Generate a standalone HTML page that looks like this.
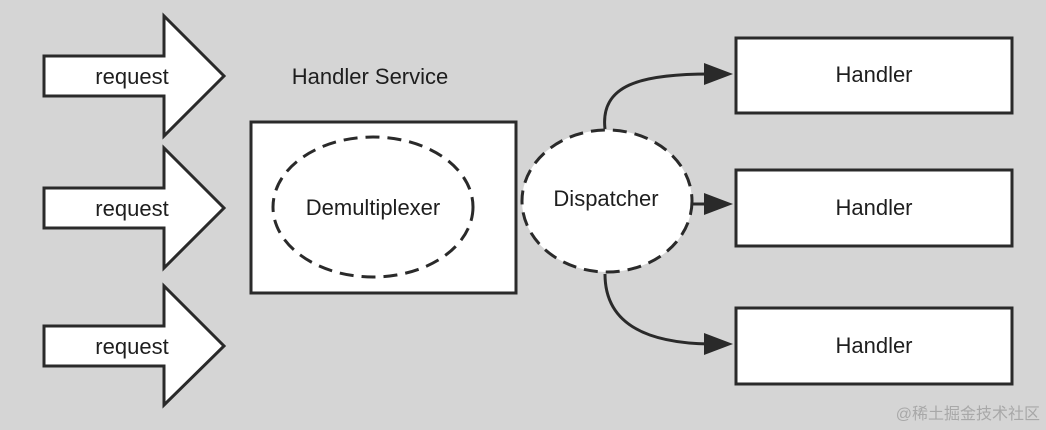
<!DOCTYPE html>
<html><head><meta charset="utf-8"><style>
html,body{margin:0;padding:0;background:#d5d5d5;}
svg{display:block}
text{font-family:"Liberation Sans","Noto Sans CJK SC",sans-serif;fill:#1e1e1e}
</style></head><body>
<svg width="1046" height="430" viewBox="0 0 1046 430">
<rect width="1046" height="430" fill="#d5d5d5"/>
<defs><marker id="ah" viewBox="0 0 10 10" refX="9" refY="5" markerWidth="10" markerHeight="10" markerUnits="userSpaceOnUse" orient="auto"><path d="M0,0 L10,5 L0,10 z" fill="#2a2a2a"/></marker></defs>
<g fill="#fff" stroke="#2a2a2a" stroke-width="3" stroke-linejoin="miter">
<path d="M44,56 H164 V16 L224,76 L164,136 V96 H44 Z"/>
<path d="M44,188 H164 V148 L224,208 L164,268 V228 H44 Z"/>
<path d="M44,326 H164 V286 L224,346 L164,405 V366 H44 Z"/>
<rect x="251" y="122" width="265" height="171"/>
<rect x="736" y="38" width="276" height="75"/>
<rect x="736" y="170" width="276" height="76"/>
<rect x="736" y="308" width="276" height="76"/>
</g>
<g fill="none" stroke="#2a2a2a" stroke-width="3">
<path d="M605,129 C600,85 640,74 710,74"/>
<path d="M692,204 H712"/>
<path d="M605,274 C605,320 640,343 710,344"/>
</g>
<g fill="#2a2a2a">
<path d="M704,63 L733,74 L704,85 Z"/>
<path d="M704,193 L733,204 L704,215 Z"/>
<path d="M704,333 L733,344 L704,355 Z"/>
</g>
<ellipse cx="373" cy="207" rx="100" ry="70" fill="#fff" stroke="#2a2a2a" stroke-width="3" stroke-dasharray="14,8"/>
<ellipse cx="607" cy="201" rx="85" ry="71" fill="#fff" stroke="#2a2a2a" stroke-width="3" stroke-dasharray="14,8"/>
<g font-size="22">
<text x="132" y="84" text-anchor="middle">request</text>
<text x="132" y="216" text-anchor="middle">request</text>
<text x="132" y="354" text-anchor="middle">request</text>
<text x="370" y="84" text-anchor="middle">Handler Service</text>
<text x="373" y="215" text-anchor="middle">Demultiplexer</text>
<text x="606" y="206" text-anchor="middle">Dispatcher</text>
<text x="874" y="82" text-anchor="middle">Handler</text>
<text x="874" y="215" text-anchor="middle">Handler</text>
<text x="874" y="353" text-anchor="middle">Handler</text>
</g>
<text x="1040" y="419" font-size="16" text-anchor="end" style="fill:#a8a8a8">@稀土掘金技术社区</text>
</svg>
</body></html>
